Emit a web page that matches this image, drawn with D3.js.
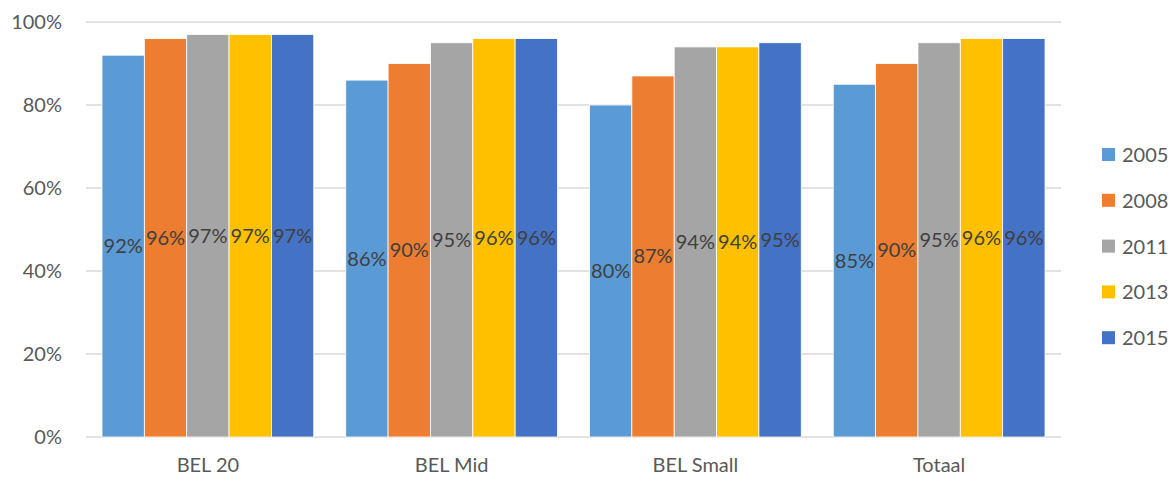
<!DOCTYPE html>
<html>
<head>
<meta charset="utf-8">
<script src="https://cdn.jsdelivr.net/npm/d3@7"></script>
<style>
  body { margin: 0; background: #fff; }
  text { font-family: Lato, "Liberation Sans", sans-serif; }
</style>
</head>
<body>
<div id="chart"></div>
<script>
// Data
var categories = ["BEL 20", "BEL Mid", "BEL Small", "Totaal"];
var years = ["2005", "2008", "2011", "2013", "2015"];
var values2005 = [0.92, 0.86, 0.80, 0.85];
var values2008 = [0.96, 0.90, 0.87, 0.90];
var values2011 = [0.97, 0.95, 0.94, 0.95];
var values2013 = [0.97, 0.96, 0.94, 0.96];
var values2015 = [0.97, 0.96, 0.95, 0.96];
var yTicks = [0, 0.2, 0.4, 0.6, 0.8, 1.0];

var seriesValues = [values2005, values2008, values2011, values2013, values2015];
var colors = ["#5B9BD5", "#ED7D31", "#A5A5A5", "#FFC000", "#4472C4"];

// Svg dimensions
var svgWidth = 1172;
var svgHeight = 477;

var margin = { top: 22, right: 111, bottom: 40, left: 86 };
var chartWidth = svgWidth - margin.left - margin.right;
var chartHeight = svgHeight - margin.top - margin.bottom;

var svg = d3.select("#chart")
    .append("svg")
    .attr("width", svgWidth)
    .attr("height", svgHeight);

var chartGroup = svg.append("g")
    .attr("transform", `translate(${margin.left}, ${margin.top})`);

// Scales
var x0 = d3.scaleBand()
    .domain(categories)
    .range([0, chartWidth])
    .paddingInner(0)
    .paddingOuter(0);

var x1 = d3.scaleBand()
    .domain(years)
    .range([16, x0.bandwidth() - 16])
    .padding(0);

var y = d3.scaleLinear()
    .domain([0, 1])
    .range([chartHeight, 0]);

// Gridlines
chartGroup.append("g")
    .selectAll("line")
    .data(yTicks)
    .enter()
    .append("line")
    .attr("x1", 0)
    .attr("x2", chartWidth)
    .attr("y1", d => y(d))
    .attr("y2", d => y(d))
    .attr("stroke", "#D9D9D9")
    .attr("stroke-width", 1.5);

// Y axis labels
var leftAxis = d3.axisLeft(y)
    .tickValues(yTicks)
    .tickFormat(d3.format(".0%"))
    .tickSize(0)
    .tickPadding(24);

var yAxis = chartGroup.append("g").call(leftAxis);
yAxis.select(".domain").remove();
yAxis.selectAll("text")
    .attr("font-size", "20px")
    .attr("fill", "#595959")
    .attr("font-family", "Lato, 'Liberation Sans', sans-serif");

// X axis labels
var bottomAxis = d3.axisBottom(x0).tickSize(0).tickPadding(21);
var xAxis = chartGroup.append("g")
    .attr("transform", `translate(0, ${chartHeight})`)
    .call(bottomAxis);
xAxis.select(".domain").remove();
xAxis.selectAll("text")
    .attr("font-size", "20px")
    .attr("fill", "#595959")
    .attr("font-family", "Lato, 'Liberation Sans', sans-serif");

// Flatten data
var barData = [];
categories.forEach(function(cat, i) {
    years.forEach(function(yr, j) {
        barData.push({ cat: cat, year: yr, value: seriesValues[j][i], color: colors[j] });
    });
});

// Bars
chartGroup.selectAll(".bar")
    .data(barData)
    .enter()
    .append("rect")
    .classed("bar", true)
    .attr("x", d => x0(d.cat) + x1(d.year))
    .attr("y", d => y(d.value))
    .attr("width", x1.bandwidth())
    .attr("height", d => chartHeight - y(d.value))
    .attr("fill", d => d.color)
    .attr("stroke", "#fff")
    .attr("stroke-width", 0.8);

// Bar labels
chartGroup.selectAll(".barLabel")
    .data(barData)
    .enter()
    .append("text")
    .classed("barLabel", true)
    .attr("x", d => x0(d.cat) + x1(d.year) + x1.bandwidth() / 2)
    .attr("y", d => (y(d.value) + chartHeight) / 2)
    .attr("dy", "0.35em")
    .attr("text-anchor", "middle")
    .attr("font-size", "20px")
    .attr("fill", "#404040")
    .text(d => d3.format(".0%")(d.value));

// Legend
var legend = svg.append("g")
    .attr("transform", "translate(1102, 155)");

var legendItems = legend.selectAll("g")
    .data(years)
    .enter()
    .append("g")
    .attr("transform", (d, i) => `translate(0, ${i * 45.8})`);

legendItems.append("rect")
    .attr("x", 0)
    .attr("y", -7)
    .attr("width", 13)
    .attr("height", 13)
    .attr("fill", (d, i) => colors[i]);

legendItems.append("text")
    .attr("x", 20)
    .attr("y", 0)
    .attr("dy", "0.35em")
    .attr("font-size", "20px")
    .attr("fill", "#595959")
    .text(d => d);
</script>
</body>
</html>
